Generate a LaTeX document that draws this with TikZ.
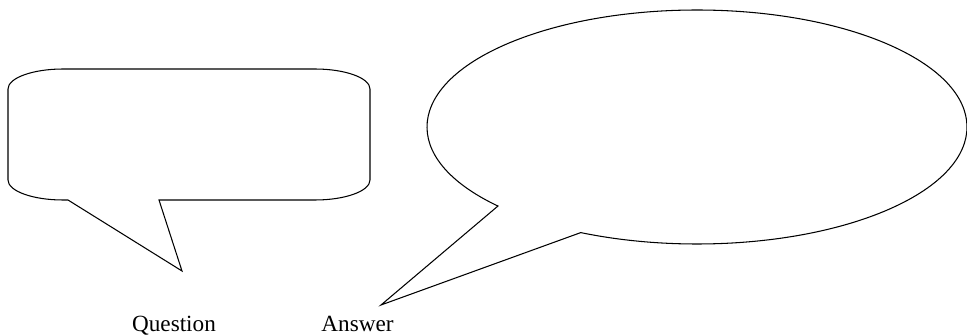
\documentclass[tikz,border=0pt]{standalone}
\usepackage{fontspec}
\setmainfont{Liberation Serif}
\usepackage{tikz}
\usetikzlibrary{calc}
\tikzset{
    bubble/.style = {
        draw, line width=0.6pt,
        line join=miter
    },
    caption/.style = {
        font=\fontsize{13.2}{15}\selectfont,
        inner sep=0pt, anchor=base
    }
}

\begin{document}
\begin{tikzpicture}[x=0.02cm, y=0.02cm]
\useasboundingbox (0,0) rectangle (967,335);

% question bubble
\coordinate (qtip) at (182,64);
\draw [bubble] (159,135) -- (315,135)
    arc[start angle=-90, end angle=0, x radius=55, y radius=20] -- (370,246)
    arc[start angle=0, end angle=90, x radius=55, y radius=20] -- (63,266)
    arc[start angle=90, end angle=180, x radius=55, y radius=20] -- (8,155)
    arc[start angle=180, end angle=270, x radius=55, y radius=20] -- (68,135)
    -- (qtip) -- cycle;

% answer bubble
\coordinate (acenter) at (697,208);
\coordinate (atip) at (381,30);
\draw [bubble] ($(acenter)+(222.5:270 and 117)$)
    arc[start angle=222.5, end angle=-115.5, x radius=270, y radius=117]
    -- (atip) -- cycle;

\node (question) [caption] at (174,4) {Question};
\node (answer) [caption] at (357.5,4) {Answer};

\end{tikzpicture}
\end{document}
